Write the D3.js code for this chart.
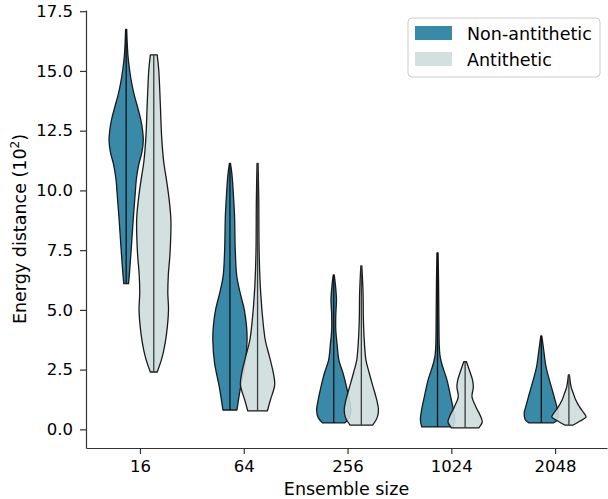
<!DOCTYPE html>
<html>
<head>
<meta charset="utf-8">
<script src="https://cdn.jsdelivr.net/npm/d3@7"></script>
<style>
  html, body { margin: 0; padding: 0; background: #fff; }
  svg { display: block; font-family: "DejaVu Sans", sans-serif; }
</style>
</head>
<body>
<svg id="chart" width="608" height="499"></svg>
<script>
// ensemble sizes (x categories)
const sizes = ["16", "64", "256", "1024", "2048"];
const yTicks = [0, 2.5, 5, 7.5, 10, 12.5, 15, 17.5];

// violin outlines: [energy distance, relative half-width]
// ordered top -> bottom, first and last rows are the cut ends
const nonAntithetic = [
  [[16.74, 0.03], [16.2, 0.06], [15.6, 0.11], [15.04, 0.2], [14.5, 0.32], [14.0, 0.47],
   [13.5, 0.66], [13.0, 0.84], [12.5, 0.96], [12.1, 1.0], [11.6, 0.92], [11.1, 0.74],
   [10.5, 0.6], [9.89, 0.53], [8.76, 0.41], [7.38, 0.28], [6.6, 0.2], [6.1, 0.14]],
  [[11.13, 0.03], [10.64, 0.12], [9.6, 0.22], [8.89, 0.27], [7.5, 0.31], [6.4, 0.4],
   [5.7, 0.6], [5.0, 0.84], [4.3, 0.97], [3.74, 1.0], [2.78, 0.9], [1.77, 0.62], [0.81, 0.41]],
  [[6.46, 0.03], [6.04, 0.1], [5.42, 0.16], [4.79, 0.12], [4.16, 0.12], [3.53, 0.2],
   [2.9, 0.3], [2.36, 0.54], [1.77, 0.75], [1.23, 0.91], [0.81, 1.0], [0.48, 0.9], [0.27, 0.64]],
  [[7.39, 0.03], [6.25, 0.06], [4.58, 0.08], [3.53, 0.1], [3.11, 0.14], [2.82, 0.22],
   [2.49, 0.36], [2.07, 0.55], [1.36, 0.77], [0.81, 0.93], [0.39, 1.0], [0.1, 0.92]],
  [[3.91, 0.03], [3.32, 0.14], [2.6, 0.28], [2.07, 0.47], [1.52, 0.69], [0.94, 0.91],
   [0.69, 1.0], [0.39, 0.93], [0.27, 0.72]]
];
const antithetic = [
  [[15.67, 0.2], [15.04, 0.29], [13.66, 0.38], [12.23, 0.46], [11.2, 0.58], [10.4, 0.75],
   [9.6, 0.9], [8.76, 1.0], [7.38, 0.95], [6.46, 0.85], [5.7, 0.82], [5.0, 0.86], [4.03, 0.75],
   [3.33, 0.59], [2.9, 0.44], [2.4, 0.2]],
  [[11.13, 0.03], [9.6, 0.07], [7.5, 0.09], [6.13, 0.15], [5.54, 0.2], [4.87, 0.27],
   [3.74, 0.45], [3.03, 0.7], [2.36, 0.92], [1.86, 1.0], [1.23, 0.75], [0.77, 0.57]],
  [[6.84, 0.03], [5.7, 0.1], [4.58, 0.12], [3.62, 0.18], [2.9, 0.27], [2.36, 0.46],
   [1.77, 0.69], [1.23, 0.9], [0.81, 1.0], [0.48, 0.92], [0.18, 0.66]],
  [[2.83, 0.08], [2.58, 0.2], [2.33, 0.32], [2.07, 0.43], [1.77, 0.48], [1.36, 0.4],
   [0.94, 0.63], [0.52, 0.92], [0.31, 1.0], [0.06, 0.8]],
  [[2.28, 0.03], [1.77, 0.13], [1.52, 0.25], [1.23, 0.4], [0.94, 0.62], [0.69, 0.87],
   [0.52, 1.0], [0.35, 0.65], [0.18, 0.25]]
];

const series = [
  { name: "Non-antithetic", data: nonAntithetic, fill: "#247ca0", line: "#111", offset: -0.133 },
  { name: "Antithetic", data: antithetic, fill: "#cedddd", line: "#3a3a3a", offset: 0.133 }
];

const svg = d3.select("#chart");
const margin = { left: 86, right: 1, top: 10, bottom: 51 };
const W = +svg.attr("width"), H = +svg.attr("height");

const x = d3.scaleLinear().domain([-0.52, 4.5]).range([margin.left, W - margin.right]);
const y = d3.scaleLinear().domain([-0.78, 17.55]).range([H - margin.bottom, margin.top]);
const halfW = d3.scaleLinear().domain([0, 1]).range([0, 0.165 * (x(1) - x(0))]);

// violins
const g = svg.append("g");
sizes.forEach((s, i) => {
  series.forEach(sr => {
    const prof = sr.data[i];
    const cx = x(i + sr.offset);
    const area = d3.area()
      .y(d => y(d[0]))
      .x0(d => cx - halfW(d[1]))
      .x1(d => cx + halfW(d[1]))
      .curve(d3.curveCatmullRom.alpha(0.5));
    g.append("path")
      .attr("d", area(prof))
      .attr("fill", sr.fill)
      .attr("fill-opacity", 0.9)
      .attr("stroke", "#1a1a1a")
      .attr("stroke-width", 1.3)
      .attr("stroke-linejoin", "round");
    g.append("line")
      .attr("x1", cx).attr("x2", cx)
      .attr("y1", y(prof[0][0])).attr("y2", y(prof[prof.length - 1][0]))
      .attr("stroke", sr.line)
      .attr("stroke-width", 1.3);
  });
});

// axes
const xAxis = svg.append("g")
  .attr("transform", `translate(0,${H - margin.bottom})`)
  .call(d3.axisBottom(x).tickValues(d3.range(sizes.length)).tickFormat(i => sizes[i])
    .tickSize(6).tickPadding(6).tickSizeOuter(0));
const yAxis = svg.append("g")
  .attr("transform", `translate(${margin.left},0)`)
  .call(d3.axisLeft(y).tickValues(yTicks).tickFormat(d3.format(".1f"))
    .tickSize(6).tickPadding(7).tickSizeOuter(0));

[xAxis, yAxis].forEach(a => {
  a.select(".domain").attr("stroke", "#333").attr("stroke-width", 1.2);
  a.selectAll(".tick line").attr("stroke", "#333").attr("stroke-width", 1.2);
  a.selectAll(".tick text").attr("fill", "#000").style("font-size", "16.5px")
    .style("font-family", "DejaVu Sans, sans-serif");
});

svg.append("text")
  .attr("x", (margin.left + W - margin.right) / 2)
  .attr("y", 495)
  .attr("text-anchor", "middle")
  .style("font-size", "17.5px")
  .text("Ensemble size");

svg.append("text")
  .attr("transform", `translate(26,${(margin.top + H - margin.bottom) / 2}) rotate(-90)`)
  .attr("text-anchor", "middle")
  .style("font-size", "17.5px")
  .html('Energy distance (10<tspan dy="-7" font-size="12px">2</tspan><tspan dy="7">)</tspan>');

// legend
const lg = svg.append("g").attr("transform", "translate(408,18)");
lg.append("rect")
  .attr("width", 192).attr("height", 59).attr("rx", 4)
  .attr("fill", "#fff").attr("fill-opacity", 0.8)
  .attr("stroke", "#ccc").attr("stroke-width", 1);
series.forEach((sr, k) => {
  const row = lg.append("g").attr("transform", `translate(0,${8 + k * 26})`);
  row.append("rect")
    .attr("x", 7).attr("width", 37).attr("height", 14)
    .attr("fill", sr.fill).attr("fill-opacity", 0.9);
  row.append("text")
    .attr("x", 59).attr("y", 14)
    .style("font-size", "17.5px")
    .text(sr.name);
});
</script>
</body>
</html>
